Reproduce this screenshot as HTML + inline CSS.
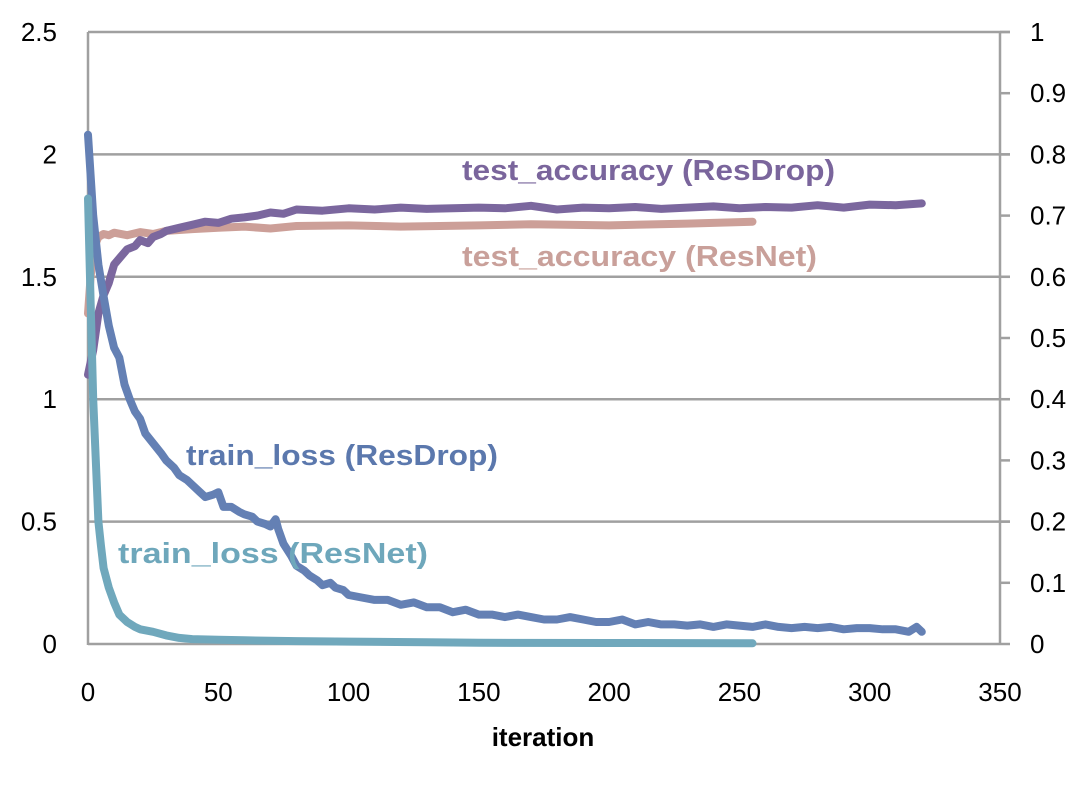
<!DOCTYPE html>
<html><head><meta charset="utf-8"><style>
body{margin:0;background:#fff;}
svg{display:block;font-family:"Liberation Sans",sans-serif;}
</style></head><body>
<svg id="chart" width="1089" height="785" viewBox="0 0 1089 785" xmlns="http://www.w3.org/2000/svg">
<g id="grid"></g><g id="axes"></g><g id="series"></g><g id="labels"></g>
</svg>
<script>
const lossTicks=[0,0.5,1,1.5,2,2.5];
const lossTickLabels=["0","0.5","1","1.5","2","2.5"];
const accTicks=[0,0.1,0.2,0.3,0.4,0.5,0.6,0.7,0.8,0.9,1];
const accTickLabels=["0","0.1","0.2","0.3","0.4","0.5","0.6","0.7","0.8","0.9","1"];
const xTicks=[0,50,100,150,200,250,300,350];
const xTickLabels=["0","50","100","150","200","250","300","350"];

const lossResDropIter=[0,2,4,6,8,10,12,14,16,18,20,22,25,28,30,33,35,38,40,43,45,48,50,52,55,58,60,63,65,68,70,72,73,75,78,80,83,85,88,90,93,95,98,100,105,110,115,120,125,130,135,140,145,150,155,160,165,170,175,180,185,190,195,200,205,210,215,220,225,230,235,240,245,250,255,260,265,270,275,280,285,290,295,300,305,310,315,318,320];
const lossResDrop=[2.08,1.75,1.55,1.42,1.3,1.21,1.17,1.06,1.0,0.95,0.92,0.86,0.82,0.78,0.75,0.72,0.69,0.67,0.65,0.62,0.6,0.61,0.62,0.56,0.56,0.54,0.53,0.52,0.5,0.49,0.48,0.51,0.47,0.41,0.36,0.32,0.3,0.28,0.26,0.24,0.25,0.23,0.22,0.2,0.19,0.18,0.18,0.16,0.17,0.15,0.15,0.13,0.14,0.12,0.12,0.11,0.12,0.11,0.1,0.1,0.11,0.1,0.09,0.09,0.1,0.08,0.09,0.08,0.08,0.075,0.08,0.07,0.08,0.075,0.07,0.08,0.07,0.065,0.07,0.065,0.07,0.06,0.065,0.065,0.06,0.06,0.05,0.07,0.05];

const lossResNetIter=[0,1,2,3,4,5,6,8,10,12,15,18,20,25,30,35,40,50,60,80,100,130,150,200,255];
const lossResNet=[1.82,1.4,1.0,0.75,0.5,0.4,0.31,0.23,0.17,0.12,0.09,0.07,0.06,0.05,0.035,0.025,0.02,0.017,0.015,0.012,0.01,0.007,0.005,0.004,0.003];

const accResDropIter=[0,2,4,6,8,10,12,15,18,20,23,25,28,30,35,40,45,50,55,60,65,70,75,80,90,100,110,120,130,140,150,160,170,180,190,200,210,220,230,240,250,260,270,280,290,300,310,320];
const accResDrop=[0.44,0.48,0.54,0.57,0.59,0.62,0.63,0.645,0.65,0.66,0.655,0.665,0.67,0.675,0.68,0.685,0.69,0.688,0.695,0.697,0.7,0.705,0.703,0.71,0.708,0.712,0.71,0.713,0.711,0.712,0.713,0.712,0.716,0.71,0.713,0.712,0.714,0.711,0.713,0.715,0.712,0.714,0.713,0.717,0.713,0.718,0.717,0.72];

const accResNetIter=[0,1,2,3,4,6,8,10,15,20,25,30,40,50,60,70,80,100,120,150,170,200,230,255];
const accResNet=[0.54,0.6,0.64,0.655,0.665,0.67,0.668,0.672,0.668,0.673,0.67,0.675,0.678,0.68,0.682,0.679,0.683,0.684,0.682,0.684,0.686,0.684,0.687,0.69];

const X0=88,X1=1000,YT=32,YB=644;
const xs=v=>X0+v/350*(X1-X0);
const yL=v=>YB-v/2.5*(YB-YT);
const yR=v=>YB-v/1*(YB-YT);
const NS="http://www.w3.org/2000/svg";
function mk(tag,attrs,parent){const e=document.createElementNS(NS,tag);for(const k in attrs)e.setAttribute(k,attrs[k]);parent.appendChild(e);return e;}
const grid=document.getElementById('grid'),axes=document.getElementById('axes'),series=document.getElementById('series'),labels=document.getElementById('labels');

lossTicks.forEach((t,i)=>{
 if(t>0){const g=mk('line',{x1:X0,x2:X1+10,y1:yL(t),y2:yL(t),stroke:'#a0a0a0','stroke-width':2.5},grid);
 
 }
 const tx=mk('text',{x:57,y:yL(t)+9,'text-anchor':'end','font-size':26,fill:'#000'},labels);
 tx.textContent=lossTickLabels[i];
 
 
});
accTicks.forEach((t,i)=>{
 const tk=mk('line',{x1:X1,x2:X1+10,y1:yR(t),y2:yR(t),stroke:'#a0a0a0','stroke-width':2.5},axes);
 
 
 const tx=mk('text',{x:1030,y:yR(t)+9,'font-size':26,fill:'#000'},labels);
 tx.textContent=accTickLabels[i];
 
 
});
xTicks.forEach((t,i)=>{
 const tx=mk('text',{x:xs(t),y:701,'text-anchor':'middle','font-size':26,fill:'#000'},labels);
 tx.textContent=xTickLabels[i];
 
 
});
const la=mk('line',{x1:X0,x2:X0,y1:YT,y2:YB+1,stroke:'#a0a0a0','stroke-width':2.5},axes);


const ra=mk('line',{x1:X1,x2:X1,y1:YT,y2:YB+1,stroke:'#a0a0a0','stroke-width':2.5},axes);


const ba=mk('line',{x1:X0,x2:X1,y1:YB,y2:YB,stroke:'#a0a0a0','stroke-width':2.5},axes);



function line(it,vals,yf,color,name){
 const pts=it.map((x,i)=>xs(x).toFixed(1)+','+yf(vals[i]).toFixed(1)).join(' ');
 const p=mk('polyline',{points:pts,fill:'none',stroke:color,'stroke-width':8,'stroke-linejoin':'round','stroke-linecap':'round'},series);
 
 
}
line(accResNetIter,accResNet,yR,'#cc9f98','test-accuracy-resnet-line');
line(accResDropIter,accResDrop,yR,'#7b679e','test-accuracy-resdrop-line');
line(lossResDropIter,lossResDrop,yL,'#6480b4','train-loss-resdrop-line');
line(lossResNetIter,lossResNet,yL,'#70a8bc','train-loss-resnet-line');

function lab(t,x,y,w,c,name){
 const e=mk('text',{x:x,y:y,'font-size':29,'font-weight':'bold',fill:c,textLength:w,lengthAdjust:'spacingAndGlyphs'},labels);
 e.textContent=t;
 
 
}
lab('test_accuracy (ResDrop)',462,180,373,'#7a659c','label-test-accuracy-resdrop');
lab('test_accuracy (ResNet)',462,266,355,'#c9a09a','label-test-accuracy-resnet');
lab('train_loss (ResDrop)',186,465,312,'#5b78ad','label-train-loss-resdrop');
lab('train_loss (ResNet)',118,563,310,'#6ea7bb','label-train-loss-resnet');
const xt=mk('text',{x:543,y:746,'text-anchor':'middle','font-size':26,'font-weight':'bold',fill:'#000'},labels);
xt.textContent='iteration';


</script>
</body></html>
